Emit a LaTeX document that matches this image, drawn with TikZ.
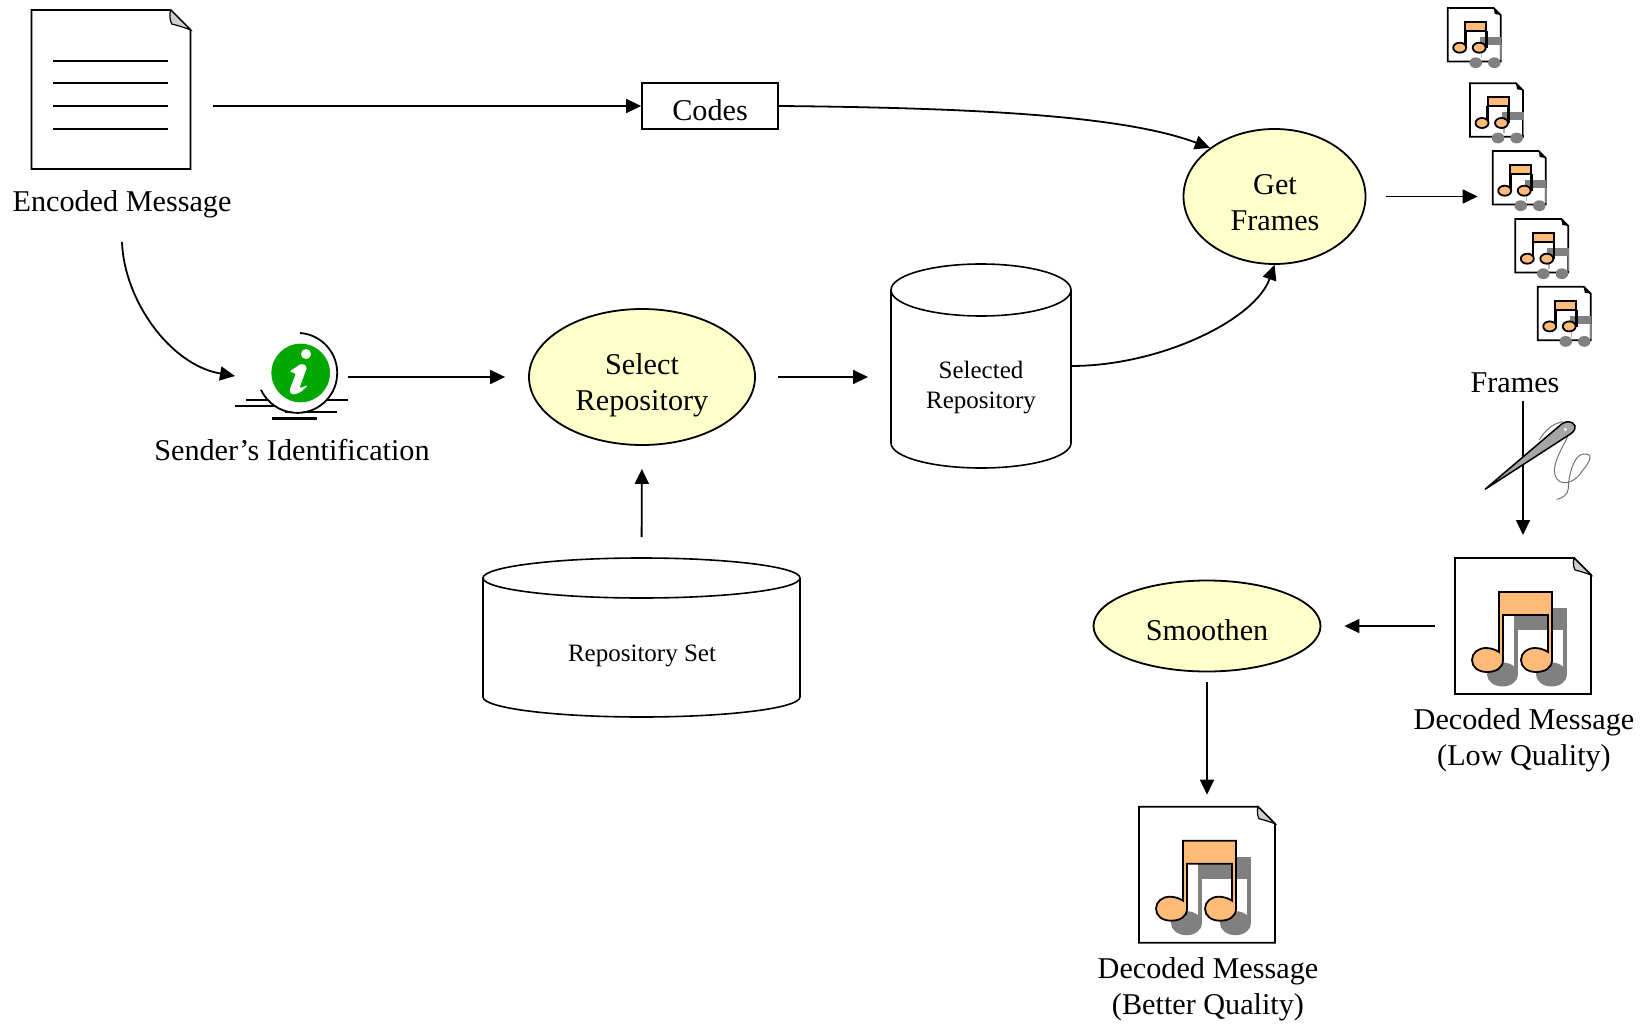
\documentclass[tikz,border=0pt]{standalone}
\usepackage{fontspec}
\setmainfont{Liberation Serif}
\usetikzlibrary{arrows.meta,shapes.geometric}
\definecolor{paleyellow}{HTML}{FFFFCC}
\definecolor{noteorange}{HTML}{FFBB77}
\definecolor{shadowgray}{HTML}{808080}
\definecolor{foldgray}{HTML}{D0D0D0}
\definecolor{infogreen}{HTML}{00A800}
\newcommand{\bigfont}{\fontsize{30.2}{36}\selectfont}
\newcommand{\smallfont}{\fontsize{25}{30}\selectfont}
\tikzset{
  conn/.style={line width=1.8pt,-{Triangle[length=15pt,width=14pt]}},
  outline/.style={line width=1.8pt,draw=black},
  procnode/.style={shape=ellipse,draw=black,line width=1.8pt,fill=paleyellow,inner sep=0pt,align=center,font=\bigfont},
  slot/.style={shape=rectangle,inner sep=0pt,outer sep=0pt},
  biglabel/.style={inner sep=0pt,align=center,font=\bigfont},
  smalllabel/.style={inner sep=0pt,align=center,font=\smallfont},
}
% page with folded corner; x y = top left, #3 = scale from a 136 wide page
\newcommand{\pageshape}[3]{%
  \begin{scope}[shift={(#1,#2)},scale=#3]
    \path[outline,fill=white] (0,0) -- (119,0) -- (136,17) -- (136,136) -- (0,136) -- cycle;
    \path[line width=1.2pt,draw=black,fill=foldgray] (119,0) -- (136,17) .. controls (128,14) and (124,13) .. (120,12) .. controls (118,8) and (118,4) .. (119,0) -- cycle;
  \end{scope}}
\newcommand{\bignotes}[2]{%
  \pageshape{#1}{#2}{1}
  \begin{scope}[shift={(#1,#2)}]
    \fill[shadowgray] (59,50) rectangle (112,72);
    \fill[shadowgray] (59,72) rectangle (63,116);
    \fill[shadowgray] (108,72) rectangle (112,116);
    \fill[shadowgray] (47.5,116.5) circle[x radius=15.5,y radius=12];
    \fill[shadowgray] (96.5,116.5) circle[x radius=15.5,y radius=12];
    \path[outline,fill=noteorange] (44,34) -- (97,34) -- (97,102)
      .. controls (97,110) and (90,114) .. (81,114)
      .. controls (72,114) and (66,109) .. (66,102)
      .. controls (66,95) and (72,90) .. (80,90)
      .. controls (85,90) and (90,92) .. (93,94)
      -- (93,57) -- (48,57) -- (48,102)
      .. controls (48,110) and (41,114) .. (32,114)
      .. controls (23,114) and (17,109) .. (17,102)
      .. controls (17,95) and (23,90) .. (31,90)
      .. controls (36,90) and (41,92) .. (44,94) -- cycle;
  \end{scope}}
\newcommand{\smallnotes}[2]{%
  \begin{scope}[shift={(#1,#2)}]
    \path[outline,fill=white] (0,0) -- (46,0) -- (53,7) -- (53,53.5) -- (0,53.5) -- cycle;
    \fill[black] (46,0) -- (53,7) -- (47,6) -- cycle;
    \fill[shadowgray] (32,29) rectangle (53.5,37);
    \fill[shadowgray!60] (33,37) rectangle (34.5,50);
    \fill[shadowgray] (52.5,37) rectangle (54,52);
    \fill[shadowgray] (28,54.7) circle[x radius=6.3,y radius=5.4];
    \fill[shadowgray] (46.6,54.7) circle[x radius=6.3,y radius=5.4];
    \path[line width=2pt,draw=black,fill=noteorange] (17.5,14) rectangle (38.5,23);
    \draw[line width=2.6pt] (17.5,23) -- (17.5,40) (38.5,23) -- (38.5,40);
    \path[line width=1.8pt,draw=black,fill=noteorange] (12,39.7) circle[x radius=6.5,y radius=5];
    \path[line width=1.8pt,draw=black,fill=noteorange] (31.5,39.7) circle[x radius=6.5,y radius=5];
  \end{scope}}
\begin{document}
\begin{tikzpicture}[x=1pt,y=-1pt]
\useasboundingbox (0,0) rectangle (1646,1024);
% ---------- slots (named places of the drawn shapes)
\node[slot,minimum width=159pt,minimum height=159pt] (msg) at (111,89.5) {};
\node[slot,minimum width=80pt,minimum height=80pt] (info) at (297.5,373) {};
\node[slot,minimum width=180pt,minimum height=204pt] (selrepo) at (981,366) {};
\node[slot,minimum width=317pt,minimum height=159pt] (repset) at (641.5,637.5) {};
\node[slot,minimum width=136pt,minimum height=136pt] (low) at (1523,626) {};
\node[slot,minimum width=136pt,minimum height=136pt] (better) at (1207,874.7) {};
\node[slot,minimum width=53pt,minimum height=53pt] (frameone) at (1474.2,34.5) {};
\node[slot,minimum width=53pt,minimum height=53pt] (frametwo) at (1496.5,109.8) {};
\node[slot,minimum width=53pt,minimum height=53pt] (framethree) at (1519.2,177.5) {};
\node[slot,minimum width=53pt,minimum height=53pt] (framefour) at (1541.8,245.5) {};
\node[slot,minimum width=53pt,minimum height=53pt] (framefive) at (1564.2,313.2) {};
% ---------- process nodes
\node[draw=black,line width=1.8pt,minimum width=136pt,minimum height=46pt,inner sep=0pt] (codes) at (710,106) {};
\node[procnode,minimum width=182pt,minimum height=135pt] (getf) at (1274.5,196.5) {};
\node[procnode,minimum width=226pt,minimum height=136pt] (select) at (642,377) {};
\node[procnode,minimum width=227pt,minimum height=91pt] (smooth) at (1207,626) {};
% ---------- free connector ends
\coordinate (curvestart) at (122,242);
\coordinate (curveend) at (235,376);
\coordinate (threadtop) at (1523,401);
% ---------- document
\pageshape{31.5}{10}{1.169}
\foreach \yy in {61,83,106,129} \draw[line width=1.8pt] (53,\yy) -- (168,\yy);
% ---------- info icon
\draw[line width=1.8pt] (246,400) -- (348,400);
\draw[line width=1.8pt] (235,405.7) -- (300,405.7);
\draw[line width=1.8pt] (285,411.7) -- (336.7,411.7);
\draw[line width=3pt] (272,418) -- (317,418);
\fill[white] (297.5,373) circle[radius=39];
\draw[line width=1.8pt] (300,333) arc[start angle=86,end angle=-155,radius=40pt];
\fill[infogreen] (300.7,373) circle[radius=29.3];
\fill[white] (306,354) circle[radius=5];
\fill[white,rounded corners=2pt] (289.3,371.7) -- (301.7,363.3) -- (307.3,366.7) -- (299.3,388.3) -- (308.3,385) -- (300,392.7) -- (291.7,395) -- (289.3,390.7) -- (296,373.3) -- cycle;
% ---------- cylinders
\path[line width=1.6pt,draw=black,fill=white] (891,290) -- (891,443) arc[start angle=180,end angle=360,x radius=90pt,y radius=25pt] -- (1071,290);
\path[line width=1.6pt,draw=black,fill=white] (981,290) circle[x radius=90,y radius=26];
\path[line width=1.6pt,draw=black,fill=white] (483,578) -- (483,697) arc[start angle=180,end angle=360,x radius=158.5pt,y radius=20pt] -- (800,578);
\path[line width=1.6pt,draw=black,fill=white] (641.5,578) circle[x radius=158.5,y radius=20];
% ---------- labels
\node[biglabel] (lblcodes) at (710,110) {Codes};
\node[biglabel] (lblget) at (1275,205) {\strut Get\\\strut Frames};
\node[biglabel] (lblsel) at (642,385) {\strut Select\\\strut Repository};
\node[biglabel] (lblsmooth) at (1207,630) {Smoothen};
\node[biglabel] (lblenc) at (122,204) {Encoded Message};
\node[biglabel] (lblsender) at (292,450) {Sender’s Identification};
\node[biglabel] (lblframes) at (1515,383) {Frames};
\node[biglabel] (lbllow) at (1524,740.5) {\strut Decoded Message\\\strut (Low Quality)};
\node[biglabel] (lblbetter) at (1208,989) {\strut Decoded Message\\\strut (Better Quality)};
\node[smalllabel] (lblselrepo) at (981,387) {\strut Selected\\\strut Repository};
\node[smalllabel] (lblrepset) at (642,656) {Repository Set};
% ---------- connectors
\draw[conn,shorten <=22pt] (msg.east |- codes.west) -- (codes.west);
\draw[conn] (codes.east) .. controls (1000,108) and (1130,118) .. (getf.143);
\draw[conn] (selrepo.east) .. controls (1160,366) and (1255,320) .. (getf.south);
\draw[conn] (curvestart) .. controls (124,300) and (170,365) .. (curveend);
\draw[conn,shorten <=10pt,shorten >=23pt] (info.east |- select.west) -- (select.west);
\draw[conn,shorten <=22pt,shorten >=23pt] (select.east) -- (select.east -| selrepo.west);
\draw[conn,shorten <=21pt,shorten >=23pt] (repset.north) -- (select.south);
\draw[conn,shorten <=20pt,shorten >=15pt] (getf.east) -- (getf.east -| framethree.west);
\draw[conn,shorten >=23pt] (threadtop) -- (low.north);
\draw[conn,shorten <=20pt,shorten >=23pt] (low.west) -- (smooth.east);
\draw[conn,shorten <=10pt,shorten >=12pt] (smooth.south) -- (better.north);
% ---------- music pages
\smallnotes{1447.7}{8}
\smallnotes{1470}{83.3}
\smallnotes{1492.7}{151}
\smallnotes{1515.3}{219}
\smallnotes{1537.7}{286.7}
\bignotes{1455}{558}
\bignotes{1139}{806.7}
% ---------- needle
\begin{scope}[shift={(1440,400)},scale=0.3333]
  \draw[line width=1pt,draw=black!55] (385,105) .. controls (370,140) and (335,190) .. (345,225) .. controls (355,260) and (400,255) .. (425,215) .. controls (455,180) and (460,160) .. (430,162) .. controls (400,165) and (385,230) .. (385,265) .. controls (385,285) and (365,295) .. (350,298);
  \draw[line width=1pt,draw=black!55] (368,65) .. controls (340,70) and (315,90) .. (298,120);
  \path[line width=1.5pt,draw=black,fill=black!35] (135,268) -- (365,72) .. controls (378,62) and (398,62) .. (405,78) .. controls (407,92) and (395,100) .. (385,106) -- cycle;
  \fill[white] (376,88) circle[radius=5];
\end{scope}
\end{tikzpicture}
\end{document}
